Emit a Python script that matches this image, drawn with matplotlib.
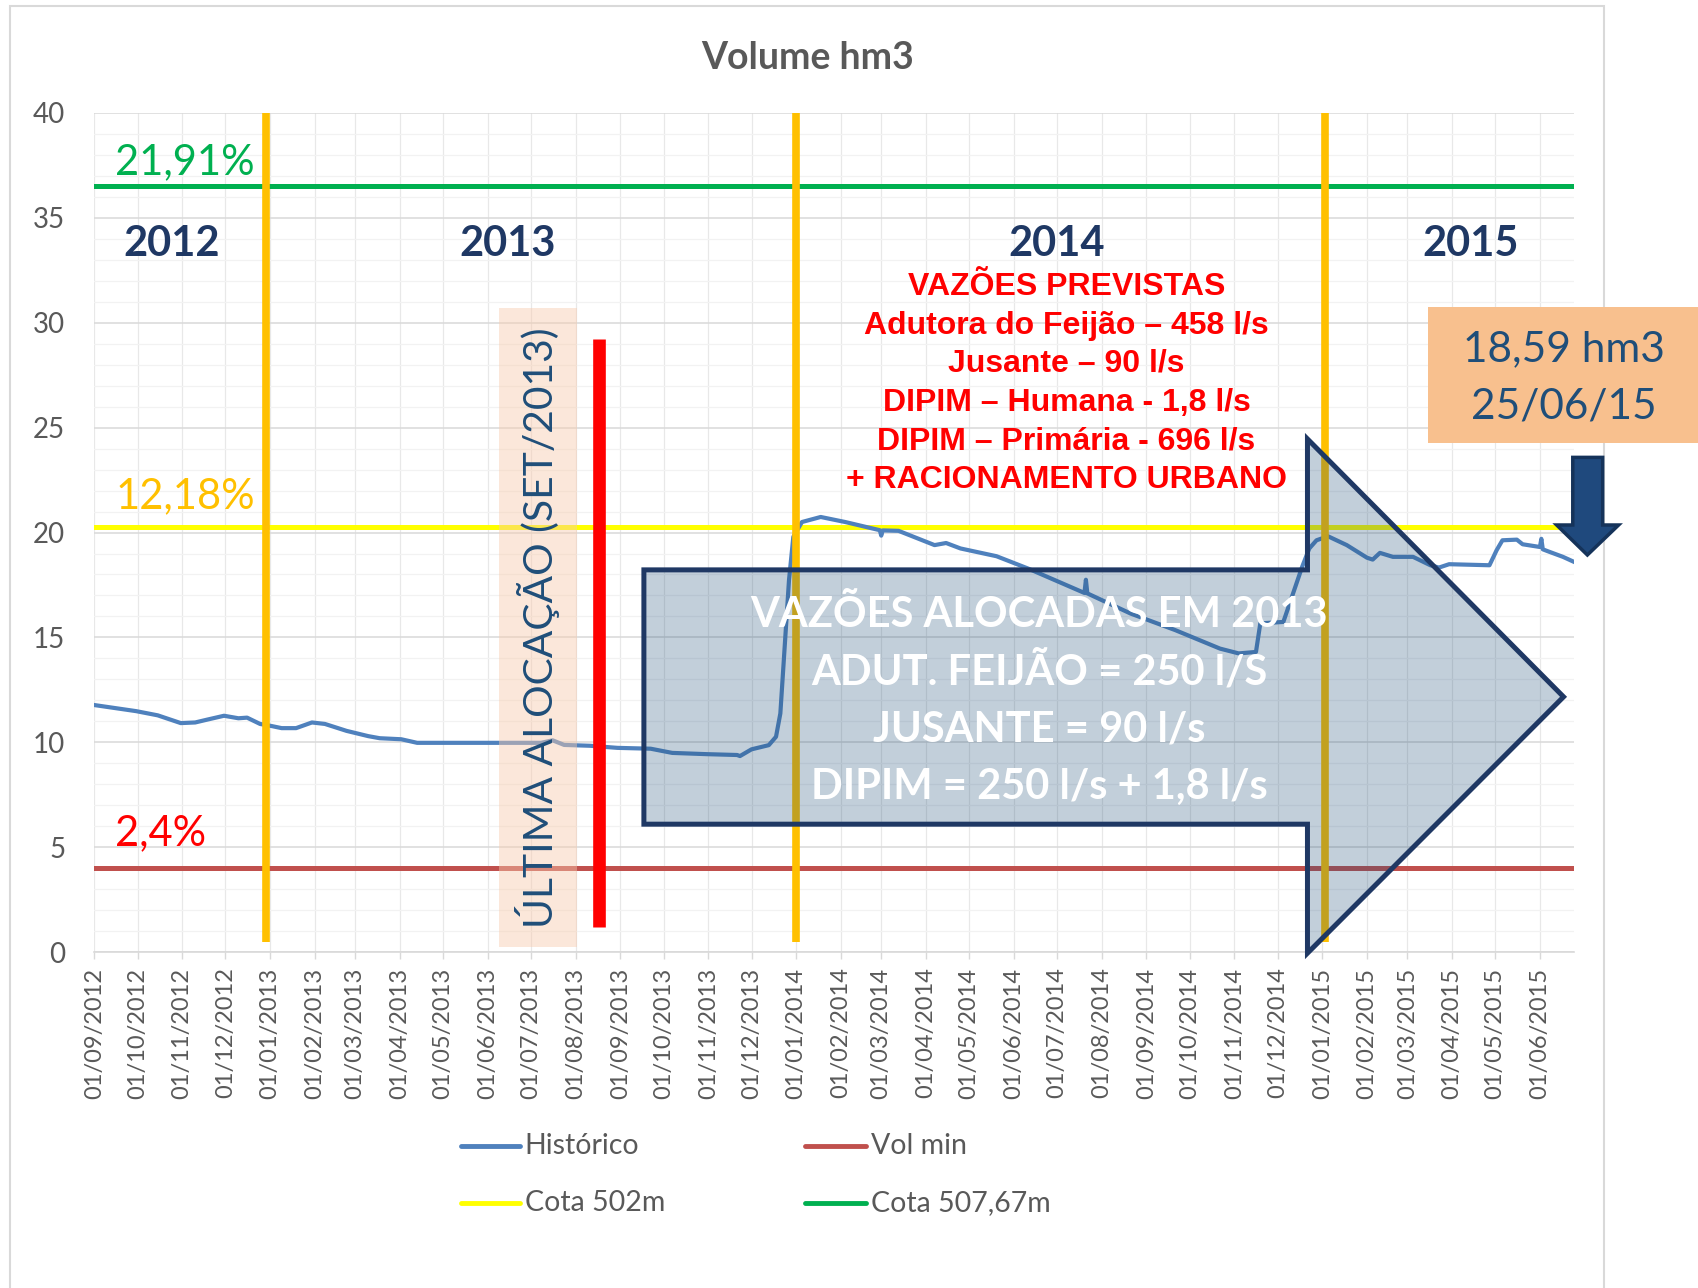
import matplotlib
matplotlib.use("Agg")
import matplotlib.pyplot as plt
import matplotlib.dates as mdates
import matplotlib.ticker as mticker
from matplotlib.patches import Polygon, Rectangle
from matplotlib.lines import Line2D
from matplotlib import font_manager
import numpy as np

# ---------------- data ----------------
hist_dates = [
    "2012-09-01", "2012-09-30", "2012-10-15", "2012-10-31", "2012-11-10", "2012-11-18",
    "2012-11-30", "2012-12-10", "2012-12-16", "2012-12-25", "2013-01-02", "2013-01-09",
    "2013-01-19", "2013-01-30", "2013-02-08", "2013-02-23", "2013-03-10", "2013-03-18",
    "2013-04-02", "2013-04-13", "2013-07-08", "2013-07-16", "2013-07-24", "2013-08-11",
    "2013-08-30", "2013-09-22", "2013-10-07", "2013-10-31", "2013-11-21", "2013-11-23",
    "2013-12-01", "2013-12-13", "2013-12-18", "2013-12-21", "2013-12-24", "2013-12-27",
    "2013-12-30", "2014-01-05", "2014-01-18", "2014-02-04", "2014-02-28", "2014-03-01",
    "2014-03-02", "2014-03-13", "2014-04-07", "2014-04-15", "2014-04-25", "2014-05-20",
    "2014-06-11", "2014-07-20", "2014-07-21", "2014-07-22", "2014-08-21", "2014-09-21",
    "2014-10-22", "2014-11-04", "2014-11-16", "2014-11-19", "2014-12-05", "2014-12-18",
    "2014-12-23", "2014-12-28", "2015-01-05", "2015-01-18", "2015-02-01", "2015-02-05",
    "2015-02-10", "2015-02-19", "2015-03-05", "2015-03-17", "2015-03-23", "2015-03-30",
    "2015-04-27", "2015-05-02", "2015-05-06", "2015-05-16", "2015-05-20", "2015-06-01",
    "2015-06-02", "2015-06-03", "2015-06-06", "2015-06-17", "2015-06-25",
]
hist_values = [
    11.78, 11.49, 11.29, 10.92, 10.95, 11.08,
    11.27, 11.15, 11.18, 10.88, 10.78, 10.68,
    10.68, 10.95, 10.88, 10.55, 10.30, 10.20,
    10.15, 9.98, 9.98, 10.10, 9.88, 9.84,
    9.74, 9.70, 9.50, 9.44, 9.40, 9.35,
    9.67, 9.87, 10.27, 11.38, 14.55, 17.73,
    19.79, 20.50, 20.74, 20.50, 20.11, 19.85,
    20.10, 20.08, 19.40, 19.50, 19.24, 18.87,
    18.28, 17.12, 17.75, 17.10, 16.14, 15.35,
    14.47, 14.24, 14.31, 15.67, 15.74, 18.36,
    19.24, 19.63, 19.82, 19.40, 18.80, 18.71,
    19.03, 18.84, 18.84, 18.44, 18.33, 18.49,
    18.44, 19.16, 19.63, 19.66, 19.44, 19.31,
    19.70, 19.20, 19.12, 18.84, 18.59,
]
hist_name = "Histórico"

ref_names = ["Vol min", "Cota 502m", "Cota 507,67m"]
ref_values = [4.0, 20.25, 36.5]
ref_colors = ["#C0504D", "#FFFF00", "#00B050"]
ref_pct_labels = ["2,4%", "12,18%", "21,91%"]
ref_pct_colors = ["#FF0000", "#FFC000", "#00B050"]

year_labels = ["2012", "2013", "2014", "2015"]
year_bounds = ["2012-12-29", "2014-01-01", "2015-01-03"]

alloc_span = ["2013-06-09", "2013-08-02"]
alloc_height = [0.25, 30.7]
alloc_text = "ÚLTIMA ALOCAÇÃO (SET/2013)"
red_bar_date = "2013-08-17"
red_bar_range = [1.2, 29.2]

previstas_lines = [
    "VAZÕES PREVISTAS",
    "Adutora do Feijão – 458 l/s",
    "Jusante – 90 l/s",
    "DIPIM – Humana - 1,8 l/s",
    "DIPIM – Primária - 696 l/s",
    "+ RACIONAMENTO URBANO",
]
alocadas_lines = [
    "VAZÕES ALOCADAS EM 2013",
    "ADUT. FEIJÃO = 250 l/S",
    "JUSANTE = 90 l/s",
    "DIPIM = 250 l/s + 1,8 l/s",
]
last_value_lines = ["18,59 hm3", "25/06/15"]
title = "Volume hm3"

# ---------------- fonts ----------------
avail = {f.name for f in font_manager.fontManager.ttflist}
MAIN = ["Lato", "DejaVu Sans"] if "Lato" in avail else ["DejaVu Sans"]
if "Liberation Sans Narrow" in avail:
    NARROW, NARROW_SIZE = ["Liberation Sans Narrow", "DejaVu Sans"], 24
else:
    NARROW, NARROW_SIZE = ["Liberation Sans", "DejaVu Sans"], 23
plt.rcParams["font.family"] = MAIN

GRAY = "#595959"
NAVY = "#1F3864"
NAVY2 = "#1F4E79"

# ---------------- figure ----------------
fig = plt.figure(figsize=(16.99, 12.88), dpi=100)
ax = fig.add_axes([0.05550, 0.26063, 0.87122, 0.65186])

d = np.array(hist_dates, dtype="datetime64[D]")
ax.plot(d, hist_values, color="#4F81BD", lw=3.0, zorder=3, solid_joinstyle="round")

for v, c in zip(ref_values, ref_colors):
    ax.axhline(v, color=c, lw=3.6, zorder=2)

for b in year_bounds:
    ax.vlines(np.datetime64(b), 0.5, 40, color="#FFC000", lw=5.5, zorder=4)

ax.vlines(np.datetime64(red_bar_date), red_bar_range[0], red_bar_range[1],
          color="#FF0000", lw=9.1, zorder=4, capstyle="butt")

x0 = mdates.date2num(np.datetime64(alloc_span[0]))
x1 = mdates.date2num(np.datetime64(alloc_span[1]))
ax.add_patch(Rectangle((x0, alloc_height[0]), x1 - x0, alloc_height[1] - alloc_height[0],
                       facecolor="#F8CBAD", alpha=0.45, edgecolor="none", zorder=5))
ax.text(0.2995, 0.3863, alloc_text, transform=ax.transAxes, rotation=90,
        ha="center", va="center", fontsize=29.3, color=NAVY2, zorder=8)

# axes styling
ax.set_xlim(np.datetime64("2012-09-01"), np.datetime64("2015-06-25"))
ax.set_ylim(0, 40)
ax.yaxis.set_major_locator(mticker.MultipleLocator(5))
ax.yaxis.set_minor_locator(mticker.MultipleLocator(1))
ax.xaxis.set_major_locator(mdates.MonthLocator())
ax.xaxis.set_major_formatter(mdates.DateFormatter("%d/%m/%Y"))
ax.set_axisbelow(True)
ax.grid(which="major", axis="y", color="#D9D9D9", lw=1.1)
ax.grid(which="minor", axis="y", color="#F2F2F2", lw=0.9)
ax.grid(which="major", axis="x", color="#E8E8E8", lw=0.9)
for s in ["top", "right", "left"]:
    ax.spines[s].set_visible(False)
ax.spines["bottom"].set_color("#D9D9D9")
ax.spines["bottom"].set_linewidth(1.2)
ax.tick_params(axis="y", which="both", length=0, pad=21, labelsize=20, labelcolor=GRAY)
ax.tick_params(axis="x", which="major", length=5, width=1, color="#D9D9D9", pad=6,
               labelsize=17, labelcolor=GRAY, labelrotation=90)

# year labels
for lab, xf in zip(year_labels, [0.0522, 0.2795, 0.650, 0.9298]):
    ax.text(xf, 0.8289, lab, transform=ax.transAxes, ha="center", va="baseline",
            fontsize=30, fontweight="bold", color=NAVY, zorder=8)

# percent labels
for lab, c, yf in zip(ref_pct_labels, ref_pct_colors, [0.1273, 0.5294, 0.9270]):
    ax.text(0.0143, yf, lab, transform=ax.transAxes, ha="left", va="baseline",
            fontsize=30, color=c, zorder=8)

# red "previstas" block
for line, yf in zip(previstas_lines, [0.7824, 0.7364, 0.6919, 0.6450, 0.5994, 0.5535]):
    ax.text(0.6568, yf, line, transform=ax.transAxes, ha="center", va="baseline",
            fontsize=NARROW_SIZE, fontweight="bold", color="#FF0000", family=NARROW, zorder=8)

# big block arrow
arrow_pts = [(0.3713, 0.4555), (0.8196, 0.4555), (0.8196, 0.6114), (0.9926, 0.3043),
             (0.8196, -0.001), (0.8196, 0.1526), (0.3713, 0.1526)]
ax.add_patch(Polygon(arrow_pts, closed=True, transform=ax.transAxes,
                     facecolor=(0.12, 0.31, 0.47, 0.27), edgecolor=NAVY, lw=3.6,
                     joinstyle="miter", zorder=6, clip_on=False))
for line, yf in zip(alocadas_lines, [0.3878, 0.3194, 0.2511, 0.1827]):
    ax.text(0.6384, yf, line, transform=ax.transAxes, ha="center", va="baseline",
            fontsize=30, fontweight="bold", color="white", zorder=8)

# title
fig.text(0.4753, 0.9468, title, ha="center", va="baseline", fontsize=27,
         fontweight="bold", color=GRAY)

# outer chart border
fig.add_artist(Rectangle((0.0058, -0.02), 0.9441 - 0.0058, 0.9952 + 0.02, fill=False,
                         edgecolor="#D9D9D9", lw=1.5, transform=fig.transFigure, zorder=0))

# orange callout box
fig.add_artist(Rectangle((0.8405, 0.656), 0.17, 0.7617 - 0.656, facecolor="#F8C08E",
                         edgecolor="none", transform=fig.transFigure, zorder=10))
for line, yf in zip(last_value_lines, [0.7192, 0.6752]):
    fig.text(0.9204, yf, line, ha="center", va="baseline", fontsize=30.5,
             color=NAVY2, zorder=11)

# down arrow
down_pts = [(0.9257, 0.6449), (0.9433, 0.6449), (0.9433, 0.5924), (0.9527, 0.5924),
            (0.9343, 0.5691), (0.9162, 0.5924), (0.9257, 0.5924)]
fig.add_artist(Polygon(down_pts, closed=True, transform=fig.transFigure,
                       facecolor="#1F497D", edgecolor="#15335A", lw=2.5,
                       joinstyle="miter", zorder=10))

# legend (manual, 2 x 2)
legend_items = [(hist_name, "#4F81BD", 0.2712, 0.3062, 0.3088, 0.1105),
                (ref_names[0], ref_colors[0], 0.4738, 0.5097, 0.5124, 0.1105),
                (ref_names[1], ref_colors[1], 0.2712, 0.3062, 0.3088, 0.0662),
                (ref_names[2], ref_colors[2], 0.4738, 0.5097, 0.5124, 0.0662)]
for name, c, hx0, hx1, tx, y in legend_items:
    fig.add_artist(Line2D([hx0, hx1], [y, y], color=c, lw=3.5, transform=fig.transFigure,
                          solid_capstyle="round"))
    fig.text(tx, y, name, ha="left", va="center", fontsize=20.5, color=GRAY)

fig.savefig("out.png", dpi=100, facecolor="white")
